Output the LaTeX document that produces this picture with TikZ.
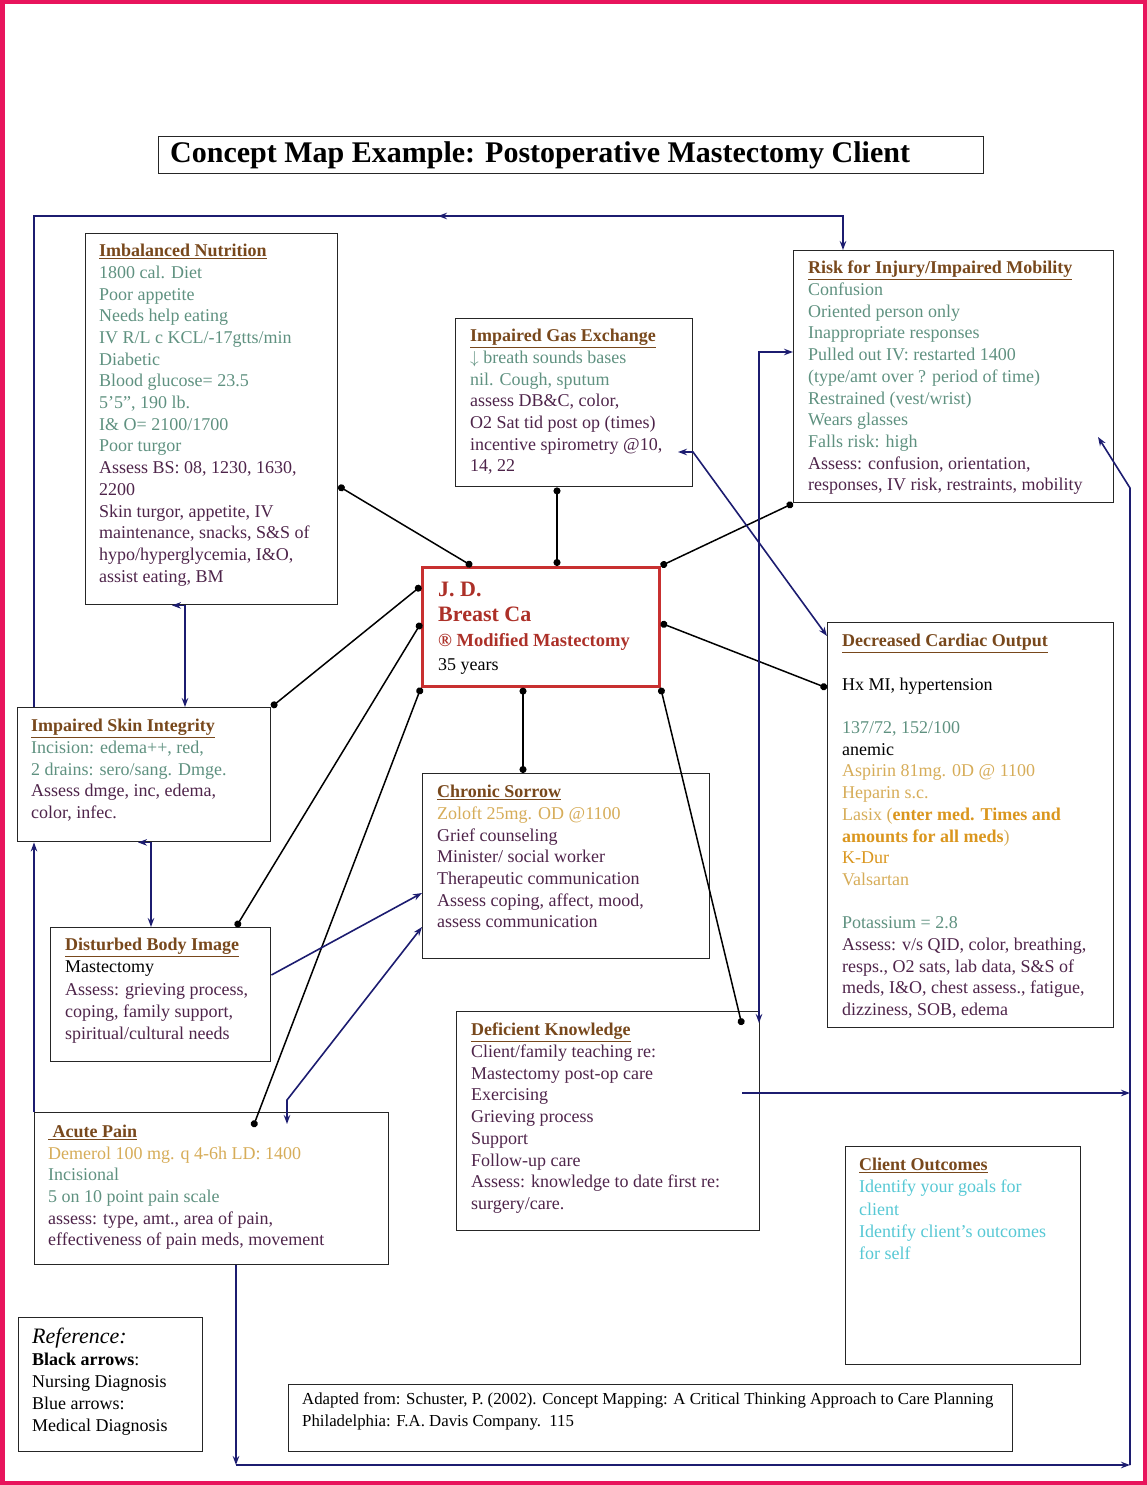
\documentclass[tikz,border=0pt]{standalone}
\usepackage{fontspec}
\setmainfont{Liberation Serif}
\usetikzlibrary{arrows.meta}
\definecolor{framepink}{RGB}{232,20,92}
\definecolor{hdrc}{RGB}{120,72,28}
\definecolor{tealc}{RGB}{95,145,128}
\definecolor{purpc}{RGB}{78,36,74}
\definecolor{goldc}{RGB}{214,172,88}
\definecolor{orangec}{RGB}{218,150,30}
\definecolor{cyanc}{RGB}{86,200,212}
\definecolor{redc}{RGB}{172,48,40}
\definecolor{ctrbox}{RGB}{200,48,48}
\definecolor{navyc}{RGB}{28,28,112}
\newcommand\boxhead[1]{\textcolor{hdrc}{\textbf{\underline{#1}}}}
\begin{document}
\begin{tikzpicture}[x=1pt,y=-1pt,
  box/.style={draw=black!85,line width=1.4pt,inner sep=0pt,anchor=north west},
  txt/.style={anchor=north west,inner sep=0pt,align=left,font=\fontsize{18}{21.7}\selectfont},
  dotln/.style={line width=1.5pt,{Circle[length=7pt]}-{Circle[length=7pt]}},
  bl/.style={draw=navyc,line width=1.6pt},
  >={Stealth[length=9pt,width=6.5pt]}]
\useasboundingbox (0,0) rectangle (1147,1485);
\draw[framepink,line width=4.5pt] (2.25,2.25) rectangle (1144.75,1482.75);

% title
\node[box,minimum width=825pt,minimum height=37pt] (title) at (158,136) {};
\node[anchor=west,inner sep=0pt,font=\fontsize{30}{31}\selectfont\bfseries] (titletxt) at (170,155) {Concept Map Example: Postoperative Mastectomy Client};

% boxes
\node[box,minimum width=252pt,minimum height=371pt] (nut) at (85,233) {};
\node[box,minimum width=237pt,minimum height=168pt] (gas) at (455,318) {};
\node[box,minimum width=320pt,minimum height=252pt] (risk) at (793,250) {};
\node[box,draw=ctrbox,line width=2.6pt,minimum width=237pt,minimum height=119pt] (ctr) at (421,566) {};
\node[box,minimum width=286pt,minimum height=405pt] (card) at (827,622) {};
\node[box,minimum width=253pt,minimum height=134pt] (skin) at (17,707) {};
\node[box,minimum width=287pt,minimum height=185pt] (chron) at (422,773) {};
\node[box,minimum width=220pt,minimum height=134pt] (body) at (50,927) {};
\node[box,minimum width=354pt,minimum height=152pt] (pain) at (34,1112) {};
\node[box,minimum width=303pt,minimum height=219pt] (know) at (456,1011) {};
\node[box,minimum width=235pt,minimum height=218pt] (out) at (845,1146) {};
\node[box,minimum width=184pt,minimum height=134pt] (ref) at (18,1317) {};
\node[box,minimum width=724pt,minimum height=67pt] (adapt) at (288,1384) {};

% texts
\node[txt] (nuttxt) at (99,244) {\boxhead{Imbalanced Nutrition}\\
\textcolor{tealc}{1800 cal. Diet}\\
\textcolor{tealc}{Poor appetite}\\
\textcolor{tealc}{Needs help eating}\\
\textcolor{tealc}{IV R/L c KCL/-17gtts/min}\\
\textcolor{tealc}{Diabetic}\\
\textcolor{tealc}{Blood glucose= 23.5}\\
\textcolor{tealc}{5’5”, 190 lb.}\\
\textcolor{tealc}{I\& O= 2100/1700}\\
\textcolor{tealc}{Poor turgor}\\
\textcolor{purpc}{Assess BS: 08, 1230, 1630,}\\
\textcolor{purpc}{2200}\\
\textcolor{purpc}{Skin turgor, appetite, IV}\\
\textcolor{purpc}{maintenance, snacks, S\&S of}\\
\textcolor{purpc}{hypo/hyperglycemia, I\&O,}\\
\textcolor{purpc}{assist eating, BM}};

\node[txt] (gastxt) at (470,329) {\boxhead{Impaired Gas Exchange}\\
\textcolor{tealc}{$\downarrow$ breath sounds bases}\\
\textcolor{tealc}{nil. Cough, sputum}\\
\textcolor{purpc}{assess DB\&C, color,}\\
\textcolor{purpc}{O2 Sat tid post op (times)}\\
\textcolor{purpc}{incentive spirometry @10,}\\
\textcolor{purpc}{14, 22}};

\node[txt] (risktxt) at (808,261) {\boxhead{Risk for Injury/Impaired Mobility}\\
\textcolor{tealc}{Confusion}\\
\textcolor{tealc}{Oriented person only}\\
\textcolor{tealc}{Inappropriate responses}\\
\textcolor{tealc}{Pulled out IV: restarted 1400}\\
\textcolor{tealc}{(type/amt over ? period of time)}\\
\textcolor{tealc}{Restrained (vest/wrist)}\\
\textcolor{tealc}{Wears glasses}\\
\textcolor{tealc}{Falls risk: high}\\
\textcolor{purpc}{Assess: confusion, orientation,}\\
\textcolor{purpc}{responses, IV risk, restraints, mobility}};

\node[anchor=base west,inner sep=0pt,font=\fontsize{22}{24}\selectfont\bfseries,text=redc] (jd) at (438,596) {J. D.};
\node[anchor=base west,inner sep=0pt,font=\fontsize{22}{24}\selectfont\bfseries,text=redc] (bc) at (438,621) {Breast Ca};
\node[anchor=base west,inner sep=0pt,font=\fontsize{18.5}{20}\selectfont\bfseries,text=redc] (mm) at (438,646) {® Modified Mastectomy};
\node[anchor=base west,inner sep=0pt,font=\fontsize{18}{20}\selectfont] (age) at (438,670) {35 years};

\node[txt] (cardtxt) at (842,634) {\boxhead{Decreased Cardiac Output}\\[21.7pt]
Hx MI, hypertension\\[21.7pt]
\textcolor{tealc}{137/72, 152/100}\\
anemic\\
\textcolor{goldc}{Aspirin 81mg. 0D @ 1100}\\
\textcolor{goldc}{Heparin s.c.}\\
\textcolor{goldc}{Lasix (}\textcolor{orangec}{\textbf{enter med. Times and}}\\
\textcolor{orangec}{\textbf{amounts for all meds}}\textcolor{goldc}{)}\\
\textcolor{orangec}{K-Dur}\\
\textcolor{goldc}{Valsartan}\\[21.7pt]
\textcolor{tealc}{Potassium = 2.8}\\
\textcolor{purpc}{Assess: v/s QID, color, breathing,}\\
\textcolor{purpc}{resps., O2 sats, lab data, S\&S of}\\
\textcolor{purpc}{meds, I\&O, chest assess., fatigue,}\\
\textcolor{purpc}{dizziness, SOB, edema}};

\node[txt] (skintxt) at (31,719) {\boxhead{Impaired Skin Integrity}\\
\textcolor{tealc}{Incision: edema++, red,}\\
\textcolor{tealc}{2 drains: sero/sang. Dmge.}\\
\textcolor{purpc}{Assess dmge, inc, edema,}\\
\textcolor{purpc}{color, infec.}};

\node[txt] (chrontxt) at (437,785) {\boxhead{Chronic Sorrow}\\
\textcolor{goldc}{Zoloft 25mg. OD @1100}\\
\textcolor{purpc}{Grief counseling}\\
\textcolor{purpc}{Minister/ social worker}\\
\textcolor{purpc}{Therapeutic communication}\\
\textcolor{purpc}{Assess coping, affect, mood,}\\
\textcolor{purpc}{assess communication}};

\node[txt,font=\fontsize{18}{22.2}\selectfont] (bodytxt) at (65,938) {\boxhead{Disturbed Body Image}\\
Mastectomy\\
\textcolor{purpc}{Assess: grieving process,}\\
\textcolor{purpc}{coping, family support,}\\
\textcolor{purpc}{spiritual/cultural needs}};

\node[txt,font=\fontsize{18}{21.6}\selectfont] (paintxt) at (48,1125) {\boxhead{\ Acute Pain}\\
\textcolor{goldc}{Demerol 100 mg. q 4-6h LD: 1400}\\
\textcolor{tealc}{Incisional}\\
\textcolor{tealc}{5 on 10 point pain scale}\\
\textcolor{purpc}{assess: type, amt., area of pain,}\\
\textcolor{purpc}{effectiveness of pain meds, movement}};

\node[txt] (knowtxt) at (471,1023) {\boxhead{Deficient Knowledge}\\
\textcolor{purpc}{Client/family teaching re:}\\
\textcolor{purpc}{Mastectomy post-op care}\\
\textcolor{purpc}{Exercising}\\
\textcolor{purpc}{Grieving process}\\
\textcolor{purpc}{Support}\\
\textcolor{purpc}{Follow-up care}\\
\textcolor{purpc}{Assess: knowledge to date first re:}\\
\textcolor{purpc}{surgery/care.}};

\node[txt,font=\fontsize{18}{22.2}\selectfont] (outtxt) at (859,1158) {\boxhead{Client Outcomes}\\
\textcolor{cyanc}{Identify your goals for}\\
\textcolor{cyanc}{client}\\
\textcolor{cyanc}{Identify client’s outcomes}\\
\textcolor{cyanc}{for self}};

\node[txt,font=\fontsize{18}{22}\selectfont] (reftxt) at (32,1328) {{\fontsize{22}{22}\selectfont\itshape Reference:}\\
\textbf{Black arrows}:\\
Nursing Diagnosis\\
Blue arrows:\\
Medical Diagnosis};

\node[txt,font=\fontsize{16.8}{22}\selectfont] (adapttxt) at (302,1392) {Adapted from: Schuster, P. (2002). Concept Mapping: A Critical Thinking Approach to Care Planning\\
Philadelphia: F.A. Davis Company.\ \ 115};

% free-end coordinates
\coordinate (painin) at (253,1127);
\coordinate (knowin) at (742,1025);
\coordinate (tlc) at (34,216);
\coordinate (trc) at (843,216);
\coordinate (midtop) at (448,216);
\coordinate (midtop2) at (438,216);
\coordinate (gasin) at (678,452);
\coordinate (gasbend) at (693,452);
\coordinate (knowtip) at (759,1023);
\coordinate (knowtop) at (759,352);
\coordinate (knowout) at (742,1093);
\coordinate (rightmid) at (1130,1093);
\coordinate (rbot) at (1130,1465);
\coordinate (lbot) at (236,1465);
\coordinate (rtop) at (1130,488);
\coordinate (riskin) at (1098,437);
\coordinate (painbend) at (287,1100);
\coordinate (paintip) at (287,1124);

% black connectors (nursing diagnosis)
\draw[dotln] (nut.east |- 0,486) -- (ctr.north -| 472,0);
\draw[dotln] (gas.south -| 557,0) -- (ctr.north -| 557,0);
\draw[dotln] (ctr.north east) -- (risk.south west);
\draw[dotln] (ctr.east |- 0,623) -- (card.west |- 0,688);
\draw[dotln] (ctr.west |- 0,586) -- (skin.north east);
\draw[dotln] (ctr.west |- 0,623) -- (body.north -| 236,0);
\draw[dotln] (ctr.south -| 523,0) -- (chron.north -| 523,0);
\draw[dotln] (ctr.south west) -- (painin);
\draw[dotln] (ctr.south east) -- (knowin);

% blue connectors (medical diagnosis)
\draw[bl,->] (skin.north -| 34,0) -- (tlc) -- (trc) -- (risk.north -| 843,0);
\draw[bl,->] (midtop) -- (midtop2);
\draw[bl,->] (pain.north -| 34,0) -- (skin.south -| 34,0);
\draw[bl,<->] (nut.south -| 172,0) -- (nut.south -| 185,0) -- (skin.north -| 185,0);
\draw[bl,<->] (skin.south -| 138,0) -- (skin.south -| 151,0) -- (body.north -| 151,0);
\draw[bl,->] (body.east |- 0,975) -- (chron.west |- 0,893);
\draw[bl,<->] (chron.west |- 0,927) -- (painbend) -- (paintip);
\draw[bl,<->] (gasin) -- (gasbend) -- (card.west |- 0,636);
\draw[bl,<->] (knowtip) -- (knowtop) -- (risk.west |- 0,352);
\draw[bl,->] (knowout) -- (rightmid);
\draw[bl,->] (pain.south -| 236,0) -- (lbot);
\draw[bl,->] (lbot) -- (rbot);
\draw[bl,->] (rbot) -- (rtop) -- (riskin);
\end{tikzpicture}
\end{document}
